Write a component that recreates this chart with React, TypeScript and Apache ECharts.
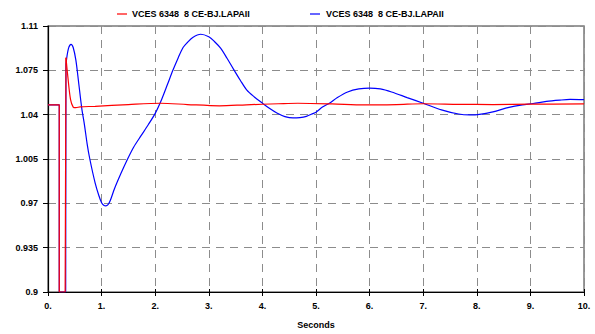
import React, { useEffect, useRef } from "react";
import * as echarts from "echarts";

const seriesName = "VCES 6348  8 CE-BJ.LAPAII";

const redTimes = [0, 0.21, 0.21, 0.32, 0.335, 0.37, 0.42, 0.47, 0.52, 0.6, 0.88, 1.5, 2.1, 2.6, 3.2, 3.7, 4.3, 4.66, 5.3, 5.9, 6.5, 7.0, 7.66, 8.3, 9.0, 10.0];
const redValues = [1.0478, 1.0478, 0.9, 0.9, 1.085, 1.07, 1.052, 1.046, 1.0455, 1.0462, 1.0466, 1.048, 1.049, 1.048, 1.047, 1.0478, 1.0486, 1.049, 1.0485, 1.0477, 1.048, 1.0486, 1.0482, 1.048, 1.0483, 1.0485];

const blueTimes = [0, 0.21, 0.21, 0.33, 0.335, 0.38, 0.43, 0.47, 0.52, 0.57, 0.63, 0.68, 0.73, 0.78, 0.88, 0.95, 1.0, 1.04, 1.08, 1.12, 1.16, 1.24, 1.36, 1.485, 1.6, 1.73, 1.87, 2.0, 2.12, 2.23, 2.33, 2.43, 2.52, 2.6, 2.7, 2.85, 3.0, 3.1, 3.22, 3.34, 3.46, 3.59, 3.71, 3.85, 4.0, 4.13, 4.27, 4.42, 4.57, 4.7, 4.82, 4.94, 5.0, 5.12, 5.25, 5.4, 5.59, 5.8, 6.0, 6.2, 6.41, 6.7, 7.0, 7.34, 7.66, 7.87, 8.05, 8.3, 8.6, 8.85, 9.05, 9.3, 9.55, 9.74, 10.0];
const blueValues = [1.0478, 1.0478, 0.9, 0.9, 1.08, 1.092, 1.0955, 1.093, 1.083, 1.066, 1.045, 1.032, 1.017, 1.005, 0.986, 0.976, 0.9705, 0.9685, 0.968, 0.969, 0.972, 0.9815, 0.9935, 1.005, 1.0145, 1.023, 1.032, 1.041, 1.052, 1.064, 1.075, 1.085, 1.093, 1.097, 1.101, 1.1035, 1.1015, 1.098, 1.0925, 1.0845, 1.076, 1.067, 1.0594, 1.054, 1.0491, 1.045, 1.0413, 1.0385, 1.0374, 1.0377, 1.0387, 1.0408, 1.042, 1.046, 1.049, 1.0535, 1.0579, 1.0603, 1.061, 1.0603, 1.0579, 1.0535, 1.049, 1.0438, 1.0405, 1.0398, 1.0402, 1.0422, 1.0458, 1.0478, 1.0488, 1.0505, 1.0515, 1.052, 1.0518];

// index where the step (fault) part ends and the smooth response starts
const redStepEnd = 4;
const blueStepEnd = 4;

const xMin = 0;
const xMax = 10;
const xStep = 1;
const yMin = 0.9;
const yMax = 1.11;
const yStep = 0.035;

const FONT = "'Liberation Sans', Arial, sans-serif";

export default function App() {
  const ref = useRef<HTMLDivElement>(null);
  useEffect(() => {
    if (!ref.current) return;
    const chart = echarts.init(ref.current, null, { renderer: "svg" });
    const toPairs = (ts: number[], vs: number[]) => ts.map((t, i) => [t, vs[i]]);
    const bluePairs = toPairs(blueTimes, blueValues);
    const redPairs = toPairs(redTimes, redValues);
    const lineSeries = (name: string, data: number[][], color: string, smooth: number | boolean) => ({
      name,
      type: "line",
      data,
      showSymbol: false,
      smooth,
      clip: true,
      lineStyle: { color, width: 1.2 },
      itemStyle: { color },
    });
    chart.setOption({
      animation: false,
      backgroundColor: "#ffffff",
      textStyle: { fontFamily: FONT },
      grid: {
        left: 48,
        right: 11,
        top: 26,
        bottom: 35,
        show: true,
        borderColor: "#7a7a7a",
        borderWidth: 1.5,
        backgroundColor: "transparent",
      },
      graphic: [
        { type: "line", shape: { x1: 117, y1: 14, x2: 127, y2: 14 }, style: { stroke: "#ff0000", lineWidth: 1.2 } },
        { type: "text", x: 132, y: 14, style: { text: seriesName, font: `bold 9px ${FONT}`, fill: "#000", verticalAlign: "middle" } },
        { type: "line", shape: { x1: 310, y1: 14, x2: 320, y2: 14 }, style: { stroke: "#0000ff", lineWidth: 1.2 } },
        { type: "text", x: 326, y: 14, style: { text: seriesName, font: `bold 9px ${FONT}`, fill: "#000", verticalAlign: "middle" } },
      ],
      xAxis: [
        {
          type: "value",
          min: xMin,
          max: xMax,
          interval: xStep,
          name: "Seconds",
          nameLocation: "middle",
          nameGap: 28,
          nameTextStyle: { fontFamily: FONT, fontWeight: "bold", fontSize: 9, color: "#000" },
          axisLine: { show: true, onZero: false, lineStyle: { color: "#000", width: 1.2 } },
          axisTick: { show: true, length: 4, inside: false, lineStyle: { color: "#000", width: 1 } },
          axisLabel: {
            margin: 9,
            fontFamily: FONT,
            fontWeight: "bold",
            fontSize: 9,
            color: "#000",
            formatter: (v: number) => `${Math.round(v)}.`,
          },
          splitLine: { show: true, lineStyle: { color: "#8c8c8c", type: [8, 6], width: 1 } },
        },
        {
          type: "value",
          min: xMin,
          max: xMax,
          interval: xStep,
          position: "bottom",
          axisLine: { show: false },
          axisTick: { show: true, length: 3, inside: true, lineStyle: { color: "#000", width: 1 } },
          axisLabel: { show: false },
          splitLine: { show: false },
        },
      ],
      yAxis: {
        type: "value",
        min: yMin,
        max: yMax,
        interval: yStep,
        axisLine: { show: true, onZero: false, lineStyle: { color: "#000", width: 1.2 } },
        axisTick: { show: true, length: 5, inside: false, lineStyle: { color: "#000", width: 1 } },
        axisLabel: {
          margin: 10,
          fontFamily: FONT,
          fontWeight: "bold",
          fontSize: 9,
          color: "#000",
          formatter: (v: number) => String(parseFloat(v.toFixed(3))),
        },
        splitLine: { show: true, lineStyle: { color: "#8c8c8c", type: [8, 6], width: 1 } },
      },
      series: [
        lineSeries("blue step", bluePairs.slice(0, blueStepEnd + 1), "#0000ff", false),
        lineSeries("blue response", bluePairs.slice(blueStepEnd), "#0000ff", 0.3),
        lineSeries("red step", redPairs.slice(0, redStepEnd + 1), "#ff0000", false),
        lineSeries("red response", redPairs.slice(redStepEnd), "#ff0000", 0.3),
      ],
    });
    return () => chart.dispose();
  }, []);
  return (
    <div
      ref={ref}
      style={{ position: "absolute", left: 0, top: 0, width: 595, height: 334 }}
    />
  );
}
